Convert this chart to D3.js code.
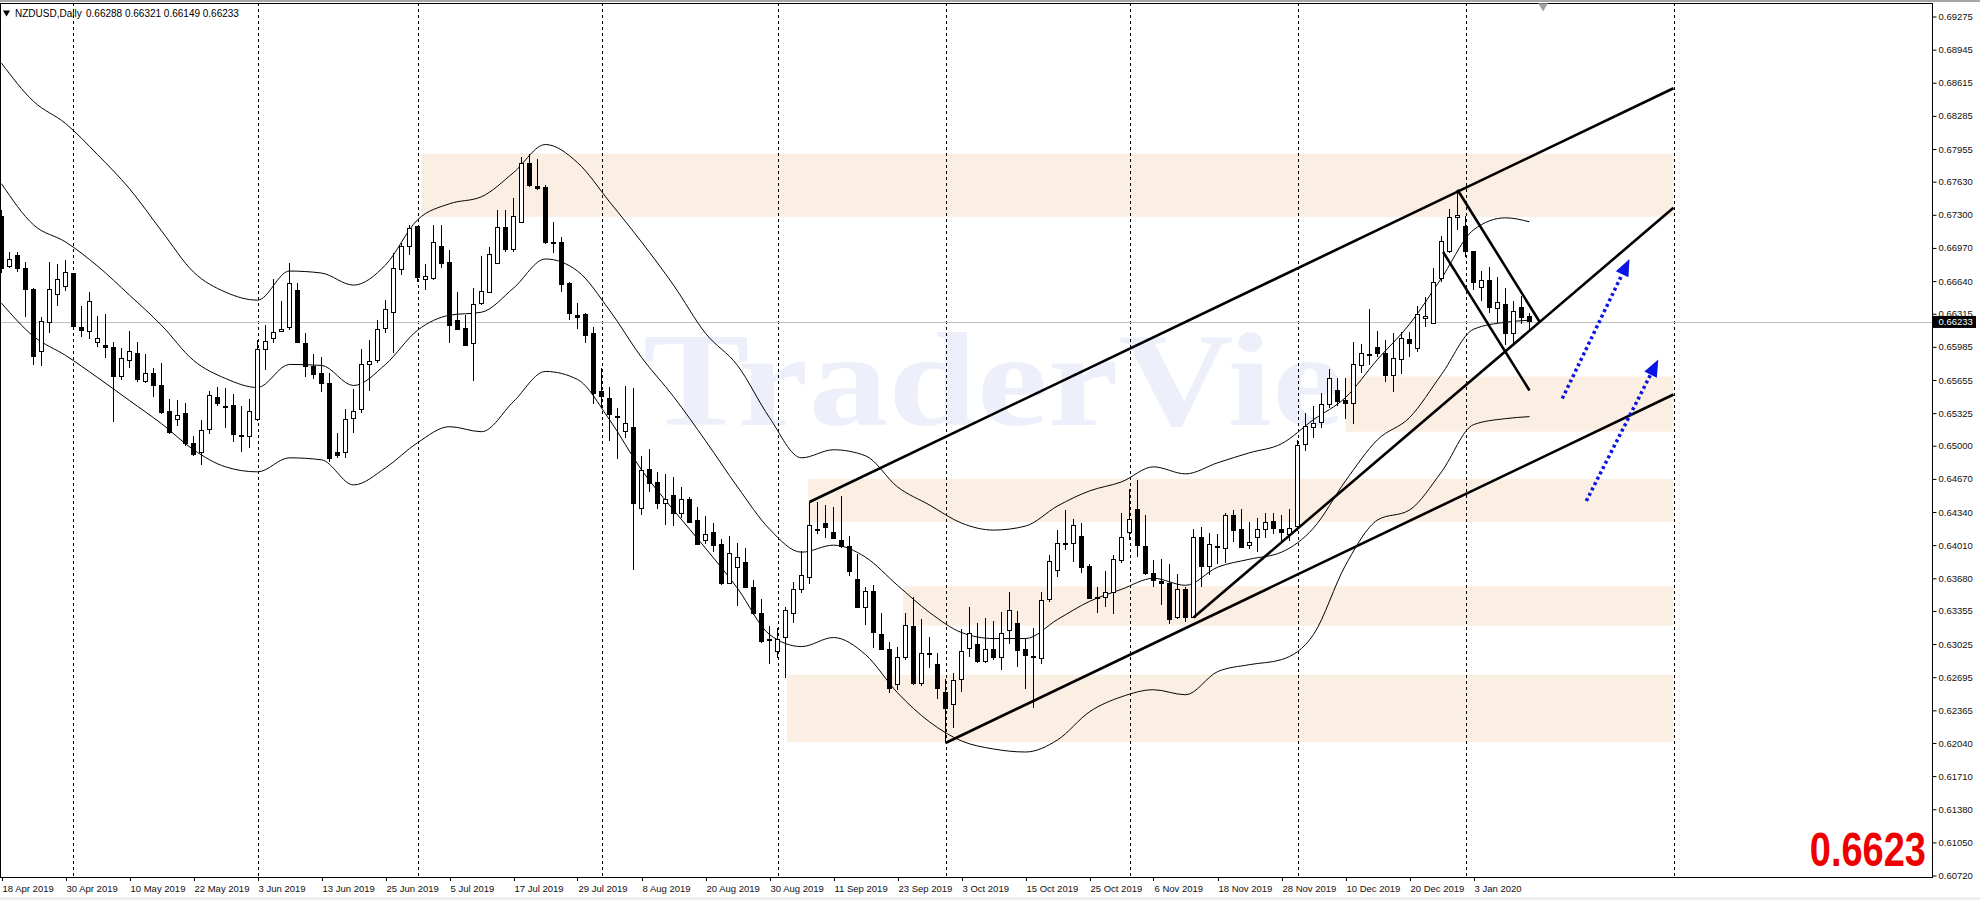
<!DOCTYPE html>
<meta charset="utf-8">
<style>
  body { margin: 0; background: #fff; }
  svg { display: block; font-family: "Liberation Sans", Arial, sans-serif; }
</style>
<svg width="1980" height="900"></svg>
<script src="https://d3js.org/d3.v7.min.js"></script>
<script>

// NZDUSD daily, one row per bar from 18 Apr 2019 to 14 Jan 2020: [open, high, low, close]
var candles = [
  [0.6728,0.6735,0.6672,0.6677],[0.6679,0.6693,0.6677,0.6685],[0.6689,0.6693,0.6673,0.6677],[0.6677,0.6683,0.6628,0.6656],
  [0.6656,0.6657,0.6580,0.6589],[0.6594,0.6628,0.6579,0.6624],[0.6623,0.6683,0.6612,0.6656],[0.6651,0.6681,0.6639,0.6666],
  [0.6659,0.6685,0.6654,0.6673],[0.6672,0.6672,0.6618,0.6619],[0.6618,0.6639,0.6608,0.6615],[0.6614,0.6653,0.6606,0.6644],
  [0.6603,0.6629,0.6598,0.6607],[0.6600,0.6631,0.6587,0.6598],[0.6598,0.6603,0.6524,0.6569],[0.6569,0.6597,0.6565,0.6587],
  [0.6585,0.6614,0.6577,0.6594],[0.6592,0.6603,0.6563,0.6566],[0.6564,0.6591,0.6562,0.6572],[0.6572,0.6577,0.6549,0.6560],
  [0.6560,0.6582,0.6532,0.6533],[0.6534,0.6547,0.6512,0.6513],[0.6526,0.6546,0.6520,0.6530],[0.6532,0.6543,0.6500,0.6502],
  [0.6502,0.6510,0.6490,0.6491],[0.6493,0.6526,0.6481,0.6515],[0.6516,0.6555,0.6512,0.6550],[0.6548,0.6559,0.6540,0.6542],
  [0.6539,0.6558,0.6518,0.6538],[0.6540,0.6552,0.6504,0.6511],[0.6510,0.6540,0.6494,0.6509],[0.6509,0.6547,0.6498,0.6534],
  [0.6526,0.6605,0.6525,0.6596],[0.6596,0.6620,0.6575,0.6604],[0.6607,0.6666,0.6602,0.6613],[0.6614,0.6644,0.6613,0.6616],
  [0.6618,0.6682,0.6615,0.6662],[0.6655,0.6662,0.6602,0.6603],[0.6602,0.6612,0.6568,0.6579],[0.6579,0.6591,0.6566,0.6571],
  [0.6572,0.6588,0.6554,0.6562],[0.6562,0.6572,0.6484,0.6487],[0.6493,0.6513,0.6488,0.6490],[0.6493,0.6537,0.6488,0.6526],
  [0.6527,0.6557,0.6513,0.6534],[0.6536,0.6596,0.6533,0.6581],[0.6581,0.6605,0.6555,0.6584],[0.6585,0.6625,0.6582,0.6616],
  [0.6617,0.6645,0.6612,0.6636],[0.6633,0.6692,0.6592,0.6677],[0.6676,0.6702,0.6670,0.6698],[0.6698,0.6720,0.6690,0.6716],
  [0.6718,0.6718,0.6663,0.6668],[0.6666,0.6681,0.6655,0.6669],[0.6667,0.6720,0.6665,0.6702],[0.6698,0.6720,0.6677,0.6682],
  [0.6683,0.6695,0.6602,0.6620],[0.6625,0.6653,0.6615,0.6616],[0.6617,0.6630,0.6600,0.6600],[0.6602,0.6657,0.6564,0.6641],
  [0.6642,0.6689,0.6640,0.6654],[0.6653,0.6698,0.6652,0.6690],[0.6682,0.6735,0.6681,0.6717],[0.6717,0.6735,0.6693,0.6695],
  [0.6695,0.6747,0.6693,0.6728],[0.6722,0.6788,0.6722,0.6781],[0.6781,0.6791,0.6758,0.6759],[0.6758,0.6786,0.6755,0.6756],
  [0.6757,0.6760,0.6701,0.6702],[0.6702,0.6723,0.6692,0.6701],[0.6702,0.6708,0.6653,0.6661],[0.6662,0.6663,0.6625,0.6632],
  [0.6630,0.6642,0.6616,0.6628],[0.6631,0.6632,0.6602,0.6610],[0.6612,0.6618,0.6542,0.6552],[0.6554,0.6577,0.6538,0.6549],
  [0.6547,0.6559,0.6505,0.6531],[0.6529,0.6538,0.6487,0.6528],[0.6514,0.6560,0.6508,0.6522],[0.6518,0.6558,0.6376,0.6442],
  [0.6438,0.6490,0.6431,0.6475],[0.6476,0.6497,0.6454,0.6462],[0.6463,0.6474,0.6437,0.6442],[0.6442,0.6472,0.6421,0.6446],
  [0.6450,0.6469,0.6420,0.6433],[0.6433,0.6459,0.6428,0.6446],[0.6446,0.6449,0.6423,0.6424],[0.6426,0.6439,0.6401,0.6402],
  [0.6406,0.6430,0.6402,0.6412],[0.6414,0.6423,0.6394,0.6401],[0.6402,0.6407,0.6361,0.6363],[0.6363,0.6410,0.6362,0.6393],
  [0.6379,0.6403,0.6340,0.6389],[0.6384,0.6398,0.6358,0.6359],[0.6359,0.6366,0.6331,0.6333],[0.6333,0.6347,0.6304,0.6305],
  [0.6307,0.6320,0.6283,0.6306],[0.6295,0.6318,0.6289,0.6307],[0.6309,0.6339,0.6269,0.6336],[0.6333,0.6364,0.6323,0.6357],
  [0.6357,0.6395,0.6353,0.6371],[0.6369,0.6444,0.6362,0.6421],[0.6417,0.6444,0.6412,0.6416],[0.6423,0.6441,0.6408,0.6419],
  [0.6414,0.6439,0.6407,0.6408],[0.6406,0.6450,0.6398,0.6400],[0.6400,0.6410,0.6370,0.6375],[0.6367,0.6392,0.6339,0.6339],
  [0.6339,0.6359,0.6321,0.6355],[0.6355,0.6361,0.6299,0.6314],[0.6312,0.6333,0.6297,0.6297],[0.6297,0.6305,0.6254,0.6258],
  [0.6262,0.6300,0.6257,0.6289],[0.6289,0.6333,0.6287,0.6321],[0.6320,0.6349,0.6262,0.6263],[0.6263,0.6327,0.6261,0.6293],
  [0.6293,0.6310,0.6279,0.6292],[0.6282,0.6294,0.6248,0.6258],[0.6254,0.6268,0.6204,0.6238],[0.6242,0.6274,0.6219,0.6266],
  [0.6267,0.6317,0.6255,0.6295],[0.6298,0.6339,0.6290,0.6313],[0.6302,0.6323,0.6284,0.6285],[0.6285,0.6328,0.6284,0.6297],
  [0.6297,0.6325,0.6287,0.6289],[0.6289,0.6334,0.6277,0.6313],[0.6316,0.6354,0.6303,0.6336],[0.6323,0.6335,0.6280,0.6296],
  [0.6297,0.6309,0.6258,0.6291],[0.6290,0.6318,0.6239,0.6289],[0.6288,0.6354,0.6283,0.6346],[0.6347,0.6391,0.6344,0.6385],
  [0.6376,0.6416,0.6369,0.6403],[0.6403,0.6436,0.6396,0.6402],[0.6403,0.6427,0.6384,0.6421],[0.6410,0.6423,0.6373,0.6379],
  [0.6380,0.6382,0.6347,0.6348],[0.6349,0.6359,0.6333,0.6348],[0.6349,0.6375,0.6339,0.6354],[0.6354,0.6391,0.6332,0.6387],
  [0.6386,0.6433,0.6383,0.6409],[0.6414,0.6457,0.6406,0.6427],[0.6437,0.6466,0.6389,0.6401],[0.6400,0.6431,0.6371,0.6373],
  [0.6373,0.6386,0.6359,0.6366],[0.6365,0.6387,0.6341,0.6363],[0.6363,0.6382,0.6322,0.6327],[0.6329,0.6372,0.6327,0.6357],
  [0.6357,0.6359,0.6324,0.6329],[0.6329,0.6417,0.6328,0.6409],[0.6409,0.6419,0.6359,0.6380],[0.6380,0.6413,0.6371,0.6402],
  [0.6400,0.6412,0.6382,0.6399],[0.6398,0.6433,0.6383,0.6431],[0.6431,0.6436,0.6404,0.6416],[0.6417,0.6437,0.6398,0.6399],
  [0.6401,0.6424,0.6397,0.6404],[0.6409,0.6428,0.6394,0.6417],[0.6417,0.6433,0.6408,0.6424],[0.6425,0.6433,0.6412,0.6418],
  [0.6417,0.6431,0.6404,0.6414],[0.6412,0.6437,0.6405,0.6418],[0.6420,0.6506,0.6415,0.6500],[0.6501,0.6533,0.6495,0.6519],
  [0.6518,0.6540,0.6508,0.6522],[0.6523,0.6553,0.6518,0.6541],[0.6541,0.6576,0.6538,0.6567],[0.6555,0.6567,0.6540,0.6544],
  [0.6545,0.6567,0.6527,0.6542],[0.6542,0.6603,0.6522,0.6581],[0.6580,0.6601,0.6572,0.6592],[0.6590,0.6636,0.6580,0.6591],
  [0.6598,0.6614,0.6588,0.6592],[0.6592,0.6605,0.6563,0.6570],[0.6570,0.6612,0.6554,0.6587],[0.6586,0.6613,0.6571,0.6607],
  [0.6606,0.6613,0.6588,0.6602],[0.6597,0.6639,0.6593,0.6631],[0.6627,0.6648,0.6618,0.6629],[0.6622,0.6677,0.6622,0.6663],
  [0.6667,0.6709,0.6663,0.6703],[0.6693,0.6736,0.6692,0.6727],[0.6727,0.6755,0.6715,0.6729],[0.6718,0.6729,0.6688,0.6693],
  [0.6693,0.6694,0.6655,0.6663],[0.6658,0.6674,0.6644,0.6665],[0.6665,0.6678,0.6632,0.6638],[0.6637,0.6668,0.6622,0.6643],
  [0.6641,0.6657,0.6600,0.6612],[0.6612,0.6644,0.6602,0.6634],[0.6638,0.6649,0.6621,0.6628],[0.66288,0.66321,0.66149,0.66233]
];

// bottom axis: bar index of each label and its text
var dateTicks = [0,8,16,24,32,40,48,56,64,72,80,88,96,104,112,120,128,136,144,152,160,168,176,184];
var dateLabels = ["18 Apr 2019","30 Apr 2019","10 May 2019","22 May 2019","3 Jun 2019","13 Jun 2019",
  "25 Jun 2019","5 Jul 2019","17 Jul 2019","29 Jul 2019","8 Aug 2019","20 Aug 2019","30 Aug 2019",
  "11 Sep 2019","23 Sep 2019","3 Oct 2019","15 Oct 2019","25 Oct 2019","6 Nov 2019","18 Nov 2019",
  "28 Nov 2019","10 Dec 2019","20 Dec 2019","3 Jan 2020"];

// right axis labels
var priceTicks = [0.69275,0.68945,0.68615,0.68285,0.67955,0.67630,0.67300,0.66970,0.66640,0.66315,
  0.65985,0.65655,0.65325,0.65000,0.64670,0.64340,0.64010,0.63680,0.63355,0.63025,0.62695,0.62365,
  0.62040,0.61710,0.61380,0.61050,0.60720];

// dashed month separators (bar index)
var monthGrid = [9,32,52,75,97,118,141,162,183,209];

// bollinger bands every few bars
var bandBars = [0,4,8,12,16,20,24,28,32,36,40,44,48,52,56,60,64,68,72,76,80,84,88,92,96,100,104,108,
  112,116,120,124,128,132,136,140,144,148,152,156,160,164,168,172,176,180,184,188,191];
var bandUpper = [0.6881,0.6843,0.6821,0.6790,0.6756,0.6714,0.6673,0.6653,0.6645,0.6674,0.6672,0.6660,
  0.6680,0.6725,0.6741,0.6748,0.6772,0.6800,0.6782,0.6743,0.6703,0.6660,0.6612,0.6580,0.6528,0.6488,
  0.6496,0.6490,0.6459,0.6441,0.6423,0.6416,0.6420,0.6440,0.6455,0.6464,0.6479,0.6472,0.6483,0.6493,
  0.6502,0.6526,0.6548,0.6586,0.6621,0.6667,0.6715,0.6727,0.6723];
var bandMiddle = [0.6761,0.6720,0.6703,0.6679,0.6650,0.6620,0.6585,0.6567,0.6558,0.6581,0.6580,0.6560,
  0.6581,0.6615,0.6630,0.6633,0.6657,0.6686,0.6674,0.6635,0.6588,0.6549,0.6505,0.6459,0.6417,0.6394,
  0.6401,0.6389,0.6361,0.6334,0.6314,0.6308,0.6308,0.6327,0.6345,0.6357,0.6368,0.6361,0.6379,0.6387,
  0.6394,0.6418,0.6465,0.6506,0.6528,0.6571,0.6616,0.6623,0.6625];
var bandLower = [0.6642,0.6609,0.6590,0.6568,0.6545,0.6522,0.6496,0.6479,0.6474,0.6488,0.6486,0.6461,
  0.6478,0.6503,0.6519,0.6514,0.6544,0.6574,0.6566,0.6526,0.6476,0.6436,0.6398,0.6358,0.6312,0.6300,
  0.6309,0.6292,0.6254,0.6225,0.6206,0.6198,0.6195,0.6207,0.6235,0.6250,0.6257,0.6252,0.6275,0.6282,
  0.6287,0.6312,0.6381,0.6426,0.6436,0.6474,0.6521,0.6527,0.6529];

// shaded price zones: [from bar, to bar, top price, bottom price]
var zones = [
  [52.5, 209, 0.6791, 0.6728],
  [100.8, 209, 0.6467, 0.6424],
  [112.7, 209, 0.6360, 0.6321],
  [98.2, 209, 0.6272, 0.6205],
  [168, 209, 0.6569, 0.6514]
];

// drawn trend lines: [[bar, price], [bar, price]]
var trendLines = [
  [[101, 0.6444], [209, 0.6856]],
  [[118, 0.6204], [209, 0.6551]],
  [[149, 0.6329], [209, 0.6737]],
  [[182, 0.6755], [192.3, 0.6623]],
  [[180.2, 0.6693], [191, 0.6555]]
];

// blue dotted arrows: [[bar, price] tail, [bar, price] head]
var arrows = [
  [[195.1, 0.6547], [203.5, 0.6686]],
  [[198.1, 0.6445], [207.1, 0.6586]]
];

var symbolName = "NZDUSD,Daily";
var lastPrice = 0.66233;
var bigLabel = "0.6623";
var shiftBar = 192.7;

var svg = d3.select("svg");
var plotRight = 1932, plotTop = 3, plotBottom = 877;

var x = d3.scaleLinear().domain([0, 240]).range([1.5, 1921.5]);
var y = d3.scaleLinear().domain([0.6072, 0.69275]).range([875.5, 16.5]);

// window chrome strips
svg.append("rect").attr("x", 0).attr("y", 0).attr("width", 1980).attr("height", 2).attr("fill", "#a6a6a6");
svg.append("rect").attr("x", 0).attr("y", 897).attr("width", 1980).attr("height", 3).attr("fill", "#efefef");

svg.append("clipPath").attr("id", "plot")
  .append("rect").attr("x", 0).attr("y", plotTop).attr("width", plotRight).attr("height", plotBottom - plotTop);

var g = svg.append("g").attr("clip-path", "url(#plot)");

// ZONES
g.selectAll(".zone").data(zones).enter().append("rect")
  .attr("x", function(d) { return x(d[0]); })
  .attr("width", function(d) { return x(d[1]) - x(d[0]); })
  .attr("y", function(d) { return y(d[2]); })
  .attr("height", function(d) { return y(d[3]) - y(d[2]); })
  .attr("fill", "#fbeee2");

// WATERMARK
g.append("text")
  .attr("x", 643).attr("y", 425)
  .attr("textLength", 700).attr("lengthAdjust", "spacingAndGlyphs")
  .style("font-family", "'Liberation Serif', 'Times New Roman', serif")
  .style("font-weight", "bold").style("font-size", "134px")
  .attr("fill", "#edf0fa")
  .text("TraderVie");

// GRID
g.selectAll(".grid").data(monthGrid).enter().append("line")
  .attr("x1", function(d) { return Math.round(x(d)) + 0.5; })
  .attr("x2", function(d) { return Math.round(x(d)) + 0.5; })
  .attr("y1", plotTop).attr("y2", plotBottom)
  .attr("stroke", "#000").attr("stroke-dasharray", "3,3");

// current price line
g.append("line")
  .attr("x1", 0).attr("x2", plotRight)
  .attr("y1", Math.round(y(lastPrice)) + 0.5).attr("y2", Math.round(y(lastPrice)) + 0.5)
  .attr("stroke", "#c0c0c0");

// BANDS
[bandUpper, bandMiddle, bandLower].forEach(function(band) {
  var line = d3.line()
    .x(function(d, i) { return x(bandBars[i]); })
    .y(function(d) { return y(d); })
    .curve(d3.curveMonotoneX);
  g.append("path").attr("d", line(band))
    .attr("fill", "none").attr("stroke", "#000").attr("stroke-width", 1);
});

// CANDLES
var c = g.selectAll(".candle").data(candles).enter().append("g")
  .attr("shape-rendering", "crispEdges");

c.append("line")
  .attr("x1", function(d, i) { return x(i); })
  .attr("x2", function(d, i) { return x(i); })
  .attr("y1", function(d) { return y(d[1]); })
  .attr("y2", function(d) { return y(d[2]); })
  .attr("stroke", "#000");

c.append("rect")
  .attr("x", function(d, i) { return x(i) - 2; })
  .attr("width", 4)
  .attr("y", function(d) { return y(Math.max(d[0], d[3])); })
  .attr("height", function(d) { return Math.max(1, Math.abs(y(d[0]) - y(d[3]))); })
  .attr("fill", function(d) { return d[3] >= d[0] ? "#fff" : "#000"; })
  .attr("stroke", "#000");

// TREND LINES
var tl = d3.line().x(function(d) { return x(d[0]); }).y(function(d) { return y(d[1]); });
g.selectAll(".trend").data(trendLines).enter().append("path")
  .attr("d", tl)
  .attr("fill", "none").attr("stroke", "#000").attr("stroke-width", 2.6);

// ARROWS
arrows.forEach(function(a) {
  var x0 = x(a[0][0]), y0 = y(a[0][1]), x1 = x(a[1][0]), y1 = y(a[1][1]);
  var ang = Math.atan2(y1 - y0, x1 - x0), len = 17, hw = 7;
  var bx = x1 - len * Math.cos(ang), by = y1 - len * Math.sin(ang);
  g.append("line")
    .attr("x1", x0).attr("y1", y0).attr("x2", bx).attr("y2", by)
    .attr("stroke", "#0a14e6").attr("stroke-width", 3.5).attr("stroke-dasharray", "3,3");
  g.append("polygon")
    .attr("points", [[x1, y1],
      [bx + hw * Math.sin(ang), by - hw * Math.cos(ang)],
      [bx - hw * Math.sin(ang), by + hw * Math.cos(ang)]].join(" "))
    .attr("fill", "#0a14e6");
});

// FRAME
svg.append("rect").attr("x", 0.5).attr("y", plotTop + 0.5)
  .attr("width", plotRight).attr("height", plotBottom - plotTop)
  .attr("fill", "none").attr("stroke", "#000");

// shift marker
svg.append("path")
  .attr("d", d3.symbol().type(d3.symbolTriangle).size(40)())
  .attr("transform", "translate(" + x(shiftBar) + ",6) rotate(180)")
  .attr("fill", "#a0a0a0");

// RIGHT AXIS
var yAxis = svg.append("g")
  .attr("transform", "translate(" + (plotRight + 0.5) + ",0)")
  .call(d3.axisRight(y).tickValues(priceTicks).tickFormat(d3.format(".5f")).tickSize(4).tickPadding(2));
yAxis.select(".domain").remove();
yAxis.selectAll("text").style("font-size", "9.5px").attr("fill", "#111")
  .style("font-family", "'Liberation Sans', Arial, sans-serif");

// last price tag
svg.append("rect").attr("x", plotRight + 1).attr("y", y(lastPrice) - 6)
  .attr("width", 43).attr("height", 12).attr("fill", "#000");
svg.append("text").attr("x", plotRight + 6.5).attr("y", y(lastPrice)).attr("dy", "0.35em")
  .style("font-size", "9.5px").attr("fill", "#fff").text(d3.format(".5f")(lastPrice));

// BOTTOM AXIS
var xAxis = svg.append("g");
xAxis.selectAll(".tk").data(dateTicks).enter().append("line")
  .attr("x1", function(d) { return Math.round(x(d)) + 0.5; })
  .attr("x2", function(d) { return Math.round(x(d)) + 0.5; })
  .attr("y1", plotBottom).attr("y2", plotBottom + 4)
  .attr("stroke", "#000");
xAxis.selectAll(".lb").data(dateTicks).enter().append("text")
  .attr("x", function(d) { return x(d) + 1; })
  .attr("y", 892)
  .style("font-size", "9.5px").attr("fill", "#111")
  .text(function(d, i) { return dateLabels[i]; });

// HEADER
svg.append("path")
  .attr("d", d3.symbol().type(d3.symbolTriangle).size(22)())
  .attr("transform", "translate(6.5,12.5) rotate(180)")
  .attr("fill", "#000");
svg.append("text").attr("x", 15).attr("y", 16.5)
  .style("font-size", "10px").attr("fill", "#000").text(symbolName);
svg.append("text").attr("x", 86).attr("y", 16.5)
  .style("font-size", "10px").attr("fill", "#000")
  .text(candles[candles.length - 1].map(d3.format(".5f")).join(" "));

// big price label, narrow and tall
svg.append("text")
  .attr("transform", "translate(1926,866) scale(1,1.25)")
  .attr("text-anchor", "end")
  .style("font-size", "38px").style("font-weight", "bold")
  .attr("fill", "#ee0000")
  .text(bigLabel);

</script>
